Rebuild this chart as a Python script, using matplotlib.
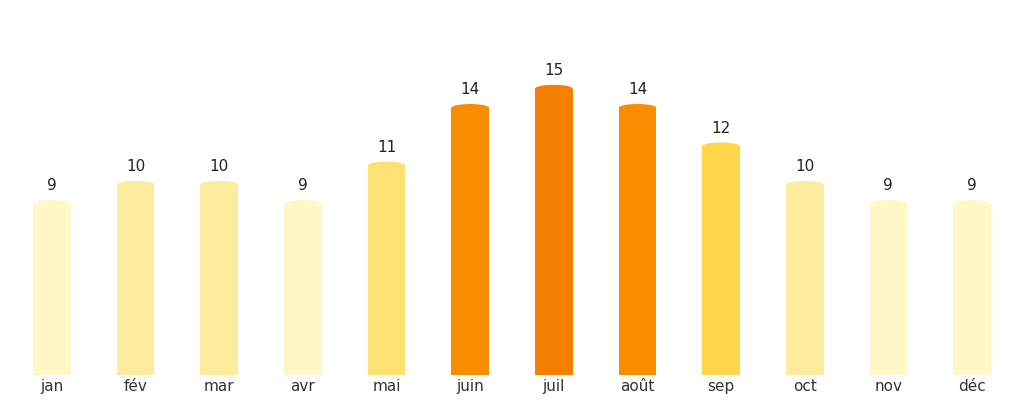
import matplotlib
matplotlib.use("Agg")
import matplotlib.pyplot as plt
from matplotlib.patches import Ellipse

months = ["jan", "fév", "mar", "avr", "mai", "juin", "juil", "août", "sep", "oct", "nov", "déc"]
values = [9, 10, 10, 9, 11, 14, 15, 14, 12, 10, 9, 9]
colors = {9: "#FFF8C6", 10: "#FFEB9C", 11: "#FFE072", 12: "#FFD54A", 14: "#FA8C00", 15: "#F57F00"}

fig = plt.figure(figsize=(10.24, 4.04), dpi=100)
ax = fig.add_axes([0, 0.072, 1, 0.856])
w = 0.45
for i, v in enumerate(values):
    c = colors[v]
    ax.bar(i, v - 0.1, width=w, color=c, linewidth=0)
    ax.add_patch(Ellipse((i, v - 0.1), w, 0.4, color=c, linewidth=0))
    ax.text(i, v + 0.45, str(v), ha="center", va="bottom", fontsize=11, color="#222222")
ax.set_xlim(-0.622, 11.622)
ax.set_ylim(0, 18)
ax.set_xticks(range(len(months)))
ax.set_xticklabels(months, fontsize=11, color="#333333")
ax.tick_params(axis="x", length=0, pad=3)
ax.set_yticks([])
for s in ax.spines.values():
    s.set_visible(False)
fig.savefig("out.png", dpi=100)
